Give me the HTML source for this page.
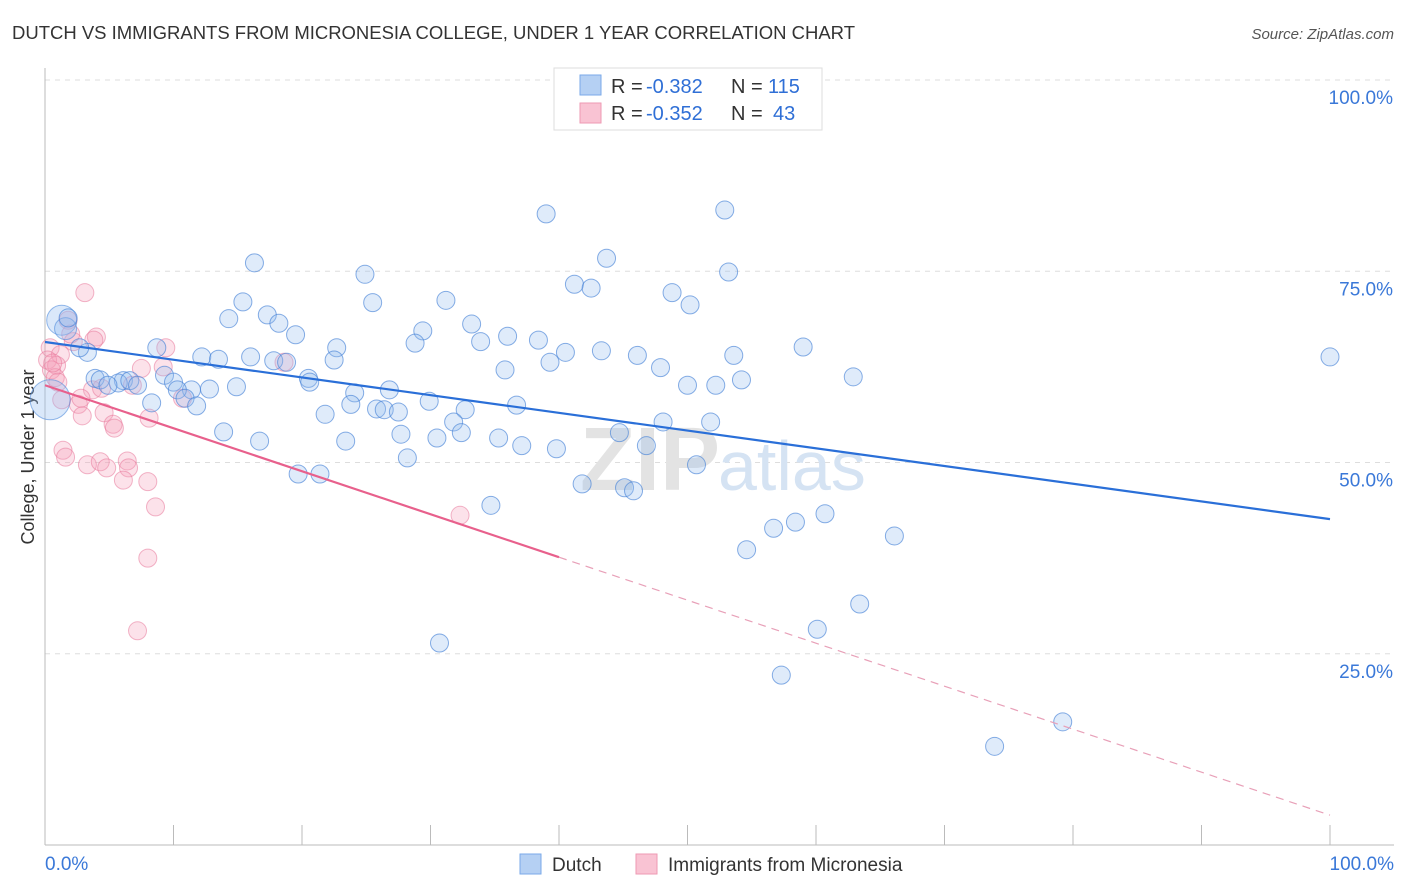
<!DOCTYPE html>
<html><head><meta charset="utf-8">
<style>
body{margin:0;background:#fff;font-family:"Liberation Sans",sans-serif;}
#wrap{position:relative;width:1406px;height:892px;overflow:hidden;}
</style></head>
<body>
<div id="wrap">
<svg id="svg" width="1406" height="892" xmlns="http://www.w3.org/2000/svg">
<text x="12" y="39" font-size="18.5" fill="#333" textLength="843">DUTCH VS IMMIGRANTS FROM MICRONESIA COLLEGE, UNDER 1 YEAR CORRELATION CHART</text>
<text x="1394" y="39" font-size="15" fill="#555" font-style="italic" text-anchor="end">Source: ZipAtlas.com</text>
<text x="0" y="0" transform="translate(34,457) rotate(-90)" font-size="18" fill="#333" text-anchor="middle">College, Under 1 year</text>
<g id="grid"></g>
<text x="720" y="490" font-size="90" font-weight="bold" fill="#e3e3e3" text-anchor="end">ZIP</text>
<text x="718" y="490" font-size="70" fill="#d5e3f3">atlas</text>
<g id="pts"></g>
<g id="lines"></g>
<g>
<rect x="554" y="68" width="268" height="62" fill="#fff" stroke="#ddd"/>
<rect x="580" y="75" width="21" height="20" fill="#b5d0f3" stroke="#7aa9e8"/>
<rect x="580" y="103" width="21" height="20" fill="#f9c3d3" stroke="#ee9ab3"/>
<text x="611" y="93" font-size="20" fill="#333">R = <tspan x="646" fill="#2f6fd6">-0.382</tspan><tspan x="731">N = </tspan><tspan x="768" fill="#2f6fd6">115</tspan></text>
<text x="611" y="120" font-size="20" fill="#333">R = <tspan x="646" fill="#2f6fd6">-0.352</tspan><tspan x="731">N = </tspan><tspan fill="#2f6fd6" x="773">43</tspan></text>
</g>
<g>
<rect x="520" y="854" width="21" height="20" fill="#b5d0f3" stroke="#7aa9e8"/>
<text x="552" y="871" font-size="19" fill="#333">Dutch</text>
<rect x="636" y="854" width="21" height="20" fill="#f9c3d3" stroke="#ee9ab3"/>
<text x="668" y="871" font-size="19" fill="#333">Immigrants from Micronesia</text>
</g>
</svg>
</div>
<script>
const blueX=[39.0,52.9,16.3,43.7,53.2,24.9,41.2,42.5,48.8,15.4,31.2,25.5,50.2,14.3,17.3,18.2,1.8,33.2,29.4,19.5,36.0,38.4,33.9,28.8,22.7,8.7,59.0,43.3,40.5,3.3,2.7,16.0,46.1,53.6,12.2,13.5,17.8,18.8,22.5,39.3,100,35.8,47.9,9.3,3.9,20.5,4.3,62.9,54.2,20.6,6.1,5.7,6.6,7.2,4.9,10.0,50.0,52.2,14.9,12.8,11.4,10.3,26.8,24.1,10.9,8.3,29.9,23.8,11.8,36.7,25.8,26.4,27.5,32.7,21.8,31.8,48.1,51.8,13.9,27.7,32.4,44.7,30.5,35.3,23.4,16.7,37.1,46.8,39.8,28.2,50.7,19.7,21.4,41.8,45.1,45.8,34.7,60.7,58.4,56.7,66.1,54.6,63.4,60.1,30.7,57.3,79.2,73.9];
const blueY=[82.5,83.0,76.1,76.7,74.9,74.6,73.3,72.8,72.2,71.0,71.2,70.9,70.6,68.8,69.3,68.2,68.9,68.1,67.2,66.7,66.5,66.0,65.8,65.6,65.0,65.0,65.1,64.6,64.4,64.4,65.0,63.8,64.0,64.0,63.8,63.5,63.3,63.1,63.4,63.1,63.8,62.1,62.4,61.4,61.0,61.0,60.8,61.2,60.8,60.5,60.7,60.4,60.7,60.1,60.1,60.5,60.1,60.1,59.9,59.6,59.5,59.5,59.5,59.1,58.4,57.8,58.0,57.6,57.4,57.5,57.0,56.9,56.6,56.9,56.3,55.3,55.3,55.3,54.0,53.7,53.9,53.9,53.2,53.2,52.8,52.8,52.2,52.2,51.8,50.6,49.7,48.5,48.5,47.2,46.7,46.3,44.4,43.3,42.2,41.4,40.4,38.6,31.5,28.2,26.4,22.2,16.1,12.9];
const bigBlueX=[0.4,1.3,1.6];
const bigBlueY=[58.2,68.6,67.5];
const bigBlueR=[20,15,11];
const pinkX=[3.1,1.8,4.0,3.8,9.4,2.2,0.4,1.2,0.2,18.6,7.5,0.9,0.5,0.8,9.2,3.7,4.4,6.8,10.7,1.3,2.6,2.8,4.6,2.9,8.1,5.3,5.4,1.4,1.6,3.3,4.3,4.8,6.4,6.5,6.1,8.0,8.6,32.3,8.0,7.2,1.0,0.6,2.0];
const pinkY=[72.2,68.6,66.4,66.0,65.0,65.8,65.0,64.1,63.4,63.1,62.3,62.7,62.1,61.1,62.5,59.5,59.7,60.1,58.4,58.2,57.6,58.4,56.5,56.1,55.8,55.0,54.5,51.6,50.7,49.7,50.1,49.3,50.2,49.3,47.7,47.5,44.2,43.1,37.5,28.0,60.5,63.0,66.8];
const yTicks=[100,75,50,25];
const yTickLabels=["100.0%","75.0%","50.0%","25.0%"];
const xTickLabels=["0.0%","100.0%"];
const blueTrend=[65.75,42.6];
const pinkTrend=[60.1,3.9];
const pinkSolidEnd=40;

const X=v=>45+v*12.85;
const Y=v=>845-v*7.65;
const NS="http://www.w3.org/2000/svg";
function mk(tag,attrs,parent){const e=document.createElementNS(NS,tag);for(const k in attrs)e.setAttribute(k,attrs[k]);parent.appendChild(e);return e;}
const grid=document.getElementById('grid');
yTicks.forEach((t,i)=>{
  const l=mk('line',{x1:45,x2:1394,y1:Y(t),y2:Y(t),stroke:'#ddd','stroke-dasharray':'5,5'},grid);
  
  
  const tx=mk('text',{x:1393,y:Y(t)+24,'font-size':19,fill:'#3a78d8','text-anchor':'end'},grid);
  tx.textContent=yTickLabels[i];
  
  
});
const ax=mk('line',{x1:45,x2:45,y1:68,y2:845,stroke:'#bbb'},grid);


const bx=mk('line',{x1:45,x2:1394,y1:845,y2:845,stroke:'#bbb'},grid);


for(let i=0;i<=10;i++){
  const t=mk('line',{x1:X(i*10),x2:X(i*10),y1:825,y2:845,stroke:'#bbb'},grid);
  
  
}
[[0,45,'start'],[1,1394,'end']].forEach(([i,x,a])=>{
  const tx=mk('text',{x:x,y:870,'font-size':19,fill:'#3a78d8','text-anchor':a},grid);
  tx.textContent=xTickLabels[i];
  
  
});
const pts=document.getElementById('pts');
pinkX.forEach((v,i)=>{
  const c=mk('circle',{cx:X(v),cy:Y(pinkY[i]),r:9,fill:'rgba(244,160,186,0.3)',stroke:'rgba(232,120,155,0.55)','stroke-width':1},pts);
  
  
});
bigBlueX.forEach((v,i)=>{
  const c=mk('circle',{cx:X(v),cy:Y(bigBlueY[i]),r:bigBlueR[i],fill:'rgba(150,190,240,0.35)',stroke:'rgba(80,140,220,0.6)','stroke-width':1},pts);
  
  
});
blueX.forEach((v,i)=>{
  const c=mk('circle',{cx:X(v),cy:Y(blueY[i]),r:9,fill:'rgba(150,190,240,0.3)',stroke:'rgba(70,130,215,0.65)','stroke-width':1},pts);
  
  
});
const lines=document.getElementById('lines');
const bl=mk('line',{x1:X(0),y1:Y(blueTrend[0]),x2:X(100),y2:Y(blueTrend[1]),stroke:'#2a6fd8','stroke-width':2.2},lines);


const pm=pinkTrend[0]+(pinkTrend[1]-pinkTrend[0])*pinkSolidEnd/100;
const pl=mk('line',{x1:X(0),y1:Y(pinkTrend[0]),x2:X(pinkSolidEnd),y2:Y(pm),stroke:'#e8608c','stroke-width':2.2},lines);


const pd=mk('line',{x1:X(pinkSolidEnd),y1:Y(pm),x2:X(100),y2:Y(pinkTrend[1]),stroke:'#e8a0b8','stroke-width':1.2,'stroke-dasharray':'8,6'},lines);


</script>
</body></html>
